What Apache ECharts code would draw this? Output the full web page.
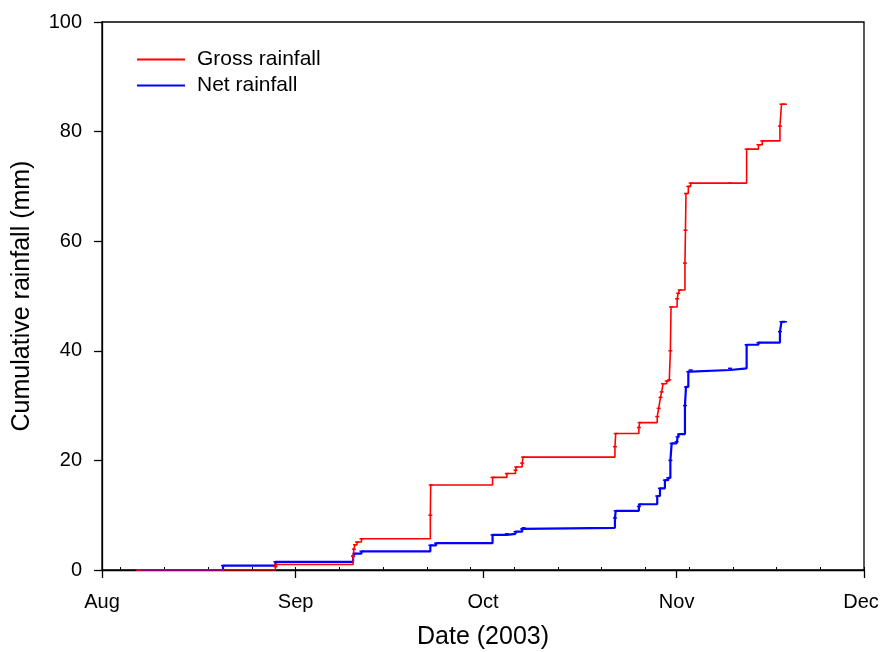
<!DOCTYPE html>
<html>
<head>
<meta charset="utf-8">
<script src="https://cdn.jsdelivr.net/npm/echarts@6/dist/echarts.min.js"></script>
<style>
html,body{margin:0;padding:0;background:#fff;}
#chart{width:880px;height:652px;}
</style>
</head>
<body>
<div id="chart"></div>
<script>
// ---- data ----
const seriesNames = ['Gross rainfall', 'Net rainfall'];

const grossRainfall = [
  ['2003-08-06 18:00', 0],
  ['2003-08-28 18:30', 0.6],
  ['2003-08-28 21:00', 1.0],
  ['2003-09-10 05:00', 2.5],
  ['2003-09-10 08:00', 3.8],
  ['2003-09-10 12:00', 4.6],
  ['2003-09-10 20:00', 5.1],
  ['2003-09-11 13:00', 5.7],
  ['2003-09-22 13:40', 10.0],
  ['2003-09-22 15:00', 15.5],
  ['2003-10-02 12:45', 16.9],
  ['2003-10-04 19:40', 17.6],
  ['2003-10-06 05:00', 18.2],
  ['2003-10-06 08:00', 18.8],
  ['2003-10-07 06:30', 19.5],
  ['2003-10-07 10:00', 20.6],
  ['2003-10-22 03:00', 22.5],
  ['2003-10-22 06:00', 24.9],
  ['2003-10-25 23:00', 26.0],
  ['2003-10-26 02:00', 26.9],
  ['2003-10-28 21:30', 28.0],
  ['2003-10-29 03:00', 29.5],
  ['2003-10-29 10:00', 31.5],
  ['2003-10-29 14:30', 32.5],
  ['2003-10-29 20:00', 34.0],
  ['2003-10-30 10:00', 34.5],
  ['2003-10-30 19:40', 34.7],
  ['2003-10-31 00:00', 40.0],
  ['2003-10-31 02:30', 48.0],
  ['2003-11-01 02:00', 49.5],
  ['2003-11-01 06:00', 50.5],
  ['2003-11-01 12:00', 51.1],
  ['2003-11-02 08:00', 56.0],
  ['2003-11-02 10:00', 62.0],
  ['2003-11-02 12:00', 68.7],
  ['2003-11-02 21:00', 70.0],
  ['2003-11-03 06:00', 70.6],
  ['2003-11-09 13:00', 70.6],
  ['2003-11-12 05:00', 76.8],
  ['2003-11-14 02:30', 77.6],
  ['2003-11-14 17:00', 78.3],
  ['2003-11-17 13:00', 81.0],
  ['2003-11-17 19:00', 85.0],
  ['2003-11-18 08:30', 85.0]
];

const netRainfall = [
  ['2003-08-06 18:00', 0],
  ['2003-08-20 09:00', 0.8],
  ['2003-08-28 18:30', 1.5],
  ['2003-09-10 05:00', 2.5],
  ['2003-09-10 10:00', 3.0],
  ['2003-09-11 13:00', 3.4],
  ['2003-09-22 13:40', 4.5],
  ['2003-09-23 12:00', 4.9],
  ['2003-10-02 12:45', 6.4],
  ['2003-10-04 19:40', 6.6],
  ['2003-10-06 05:00', 7.0],
  ['2003-10-07 06:30', 7.5],
  ['2003-10-07 12:00', 7.7],
  ['2003-10-22 03:00', 9.5],
  ['2003-10-22 06:00', 10.8],
  ['2003-10-25 23:00', 11.6],
  ['2003-10-26 03:00', 12.0],
  ['2003-10-28 21:30', 13.5],
  ['2003-10-29 08:00', 14.9],
  ['2003-10-30 03:00', 16.4],
  ['2003-10-30 15:40', 16.8],
  ['2003-10-31 00:00', 20.0],
  ['2003-10-31 05:00', 23.1],
  ['2003-11-01 00:00', 23.4],
  ['2003-11-01 04:00', 24.3],
  ['2003-11-01 10:00', 24.8],
  ['2003-11-02 08:00', 30.0],
  ['2003-11-02 12:00', 33.4],
  ['2003-11-02 21:00', 36.2],
  ['2003-11-03 06:00', 36.5],
  ['2003-11-09 13:00', 36.8],
  ['2003-11-12 05:00', 41.1],
  ['2003-11-14 02:30', 41.5],
  ['2003-11-17 13:00', 43.5],
  ['2003-11-17 19:00', 45.3],
  ['2003-11-18 08:30', 45.3]
];

const monthTickDates = ['2003-08-01', '2003-09-01', '2003-10-01', '2003-11-01', '2003-12-01'];
const monthTickLabels = ['Aug', 'Sep', 'Oct', 'Nov', 'Dec'];
const weekTickDates = ['2003-08-04','2003-08-11','2003-08-18','2003-08-25','2003-09-01','2003-09-08',
  '2003-09-15','2003-09-22','2003-09-29','2003-10-06','2003-10-13','2003-10-20','2003-10-27',
  '2003-11-03','2003-11-10','2003-11-17','2003-11-24','2003-12-01'];

// ---- helpers ----
function parseDate(s) {
  const [d, t] = s.split(' ');
  const [y, m, dd] = d.split('-').map(Number);
  let hh = 0, mm = 0;
  if (t) { [hh, mm] = t.split(':').map(Number); }
  return new Date(y, m - 1, dd, hh, mm).getTime();
}
const toSeries = arr => arr.map(p => [parseDate(p[0]), p[1]]);
const monthTicks = monthTickDates.map(parseDate);
const weekTicks = weekTickDates.map(parseDate);
const labelFor = v => {
  const i = monthTicks.indexOf(v);
  if (i < 0) return '';
  return i === monthTicks.length - 1 ? '{last|' + monthTickLabels[i] + '}' : monthTickLabels[i];
};

const FONT = "'Liberation Sans', Arial, Helvetica, sans-serif";
const xMin = monthTicks[0], xMax = monthTicks[monthTicks.length - 1];

const chart = echarts.init(document.getElementById('chart'), null, {renderer: 'canvas'});
chart.setOption({
  animation: false,
  backgroundColor: '#ffffff',
  textStyle: {fontFamily: FONT},
  grid: {left: 102, top: 22, right: 16, bottom: 82, outerBoundsMode: 'none', containLabel: false,
         show: true, borderColor: '#000', borderWidth: 1.3, backgroundColor: 'transparent'},
  legend: {
    orient: 'vertical',
    left: 132, top: 44,
    itemWidth: 48, itemHeight: 2, itemGap: 5,
    icon: 'rect',
    data: seriesNames,
    textStyle: {fontFamily: FONT, fontSize: 21, color: '#000', lineHeight: 21, padding: [0, 0, 0, 7]}
  },
  xAxis: [{
    type: 'value',
    min: xMin, max: xMax,
    name: 'Date (2003)',
    nameLocation: 'middle',
    nameGap: 55,
    nameTextStyle: {fontFamily: FONT, fontSize: 25, color: '#000'},
    axisLine: {show: true, lineStyle: {color: '#000', width: 1.3}},
    axisTick: {show: true, inside: false, length: 8, customValues: monthTicks, lineStyle: {color: '#000', width: 1.3}},
    axisLabel: {show: true, customValues: monthTicks, formatter: labelFor, margin: 22, fontFamily: FONT, fontSize: 20, color: '#000',
      rich: {last: {fontFamily: FONT, fontSize: 20, color: '#000', padding: [0, 6, 0, 0]}}},
    splitLine: {show: false}
  }, {
    type: 'value',
    min: xMin, max: xMax,
    position: 'bottom',
    axisLine: {show: false},
    axisTick: {show: true, inside: true, length: 3, customValues: weekTicks, lineStyle: {color: '#000', width: 1}},
    axisLabel: {show: false},
    splitLine: {show: false}
  }],
  yAxis: {
    type: 'value',
    min: 0, max: 100, interval: 20,
    name: 'Cumulative rainfall (mm)',
    nameLocation: 'middle',
    nameGap: 67,
    nameRotate: 90,
    nameTextStyle: {fontFamily: FONT, fontSize: 25, color: '#000'},
    axisLine: {show: true, lineStyle: {color: '#000', width: 1.3}},
    axisTick: {show: true, inside: false, length: 8, lineStyle: {color: '#000', width: 1.3}},
    axisLabel: {margin: 20, fontFamily: FONT, fontSize: 20, color: '#000'},
    splitLine: {show: false}
  },
  series: [{
    name: seriesNames[0],
    type: 'line',
    step: 'end',
    xAxisIndex: 0,
    data: toSeries(grossRainfall),
    color: '#ff0000',
    lineStyle: {color: '#ff0000', width: 1.6},
    symbol: 'rect', symbolSize: [4, 1.5], showAllSymbol: true,
    itemStyle: {color: '#ff0000'},
    z: 3
  }, {
    name: seriesNames[1],
    type: 'line',
    step: 'end',
    xAxisIndex: 0,
    data: toSeries(netRainfall),
    color: '#0000ff',
    lineStyle: {color: '#0000ff', width: 2.2},
    symbol: 'rect', symbolSize: [4, 1.5], showAllSymbol: true,
    itemStyle: {color: '#0000ff'},
    z: 2
  }]
});
</script>
</body>
</html>
